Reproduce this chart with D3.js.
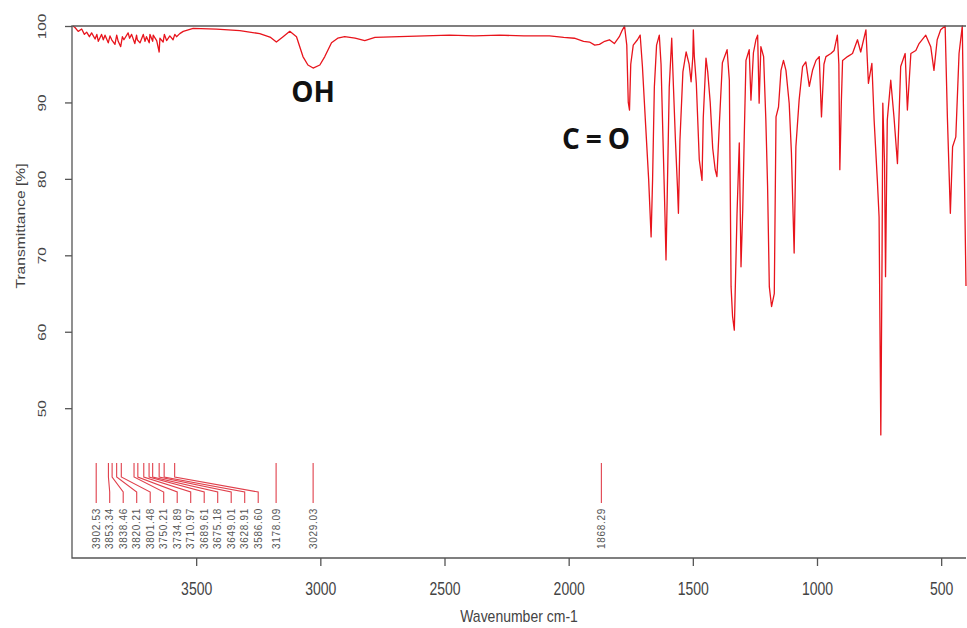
<!DOCTYPE html>
<html>
<head>
<meta charset="utf-8">
<script src="https://cdn.jsdelivr.net/npm/d3@7"></script>
<style>
  body { margin: 0; background: #fff; }
  svg { display: block; font-family: "Liberation Sans", Arial, sans-serif; }
</style>
</head>
<body>
<script>
//spectrum: wavenumber (cm-1) and transmittance (%)
var wavenumbers = [
  3996, 3988, 3975, 3961, 3950, 3941, 3930, 3921, 3907, 3900, 3894, 3881, 3874, 3867, 3854, 3847,
  3840, 3827, 3820, 3814, 3804, 3797, 3791, 3774, 3768, 3760, 3747, 3740, 3737, 3726, 3713, 3706,
  3700, 3689, 3686, 3675, 3673, 3659, 3649, 3646, 3633, 3628, 3619, 3606, 3593, 3586, 3579, 3566,
  3552, 3512, 3418, 3324, 3244, 3200, 3177, 3150, 3123, 3096, 3070, 3050, 3029, 3002, 2982, 2955,
  2930, 2902, 2860, 2821, 2780, 2681, 2580, 2480, 2380, 2278, 2180, 2077, 2020, 1977, 1940, 1916,
  1895, 1876, 1855, 1836, 1816, 1796, 1785, 1775, 1766, 1760, 1755, 1750, 1740, 1723, 1712, 1703,
  1690, 1678, 1668, 1662, 1655, 1646, 1635, 1628, 1620, 1612, 1608, 1603, 1595, 1585, 1578, 1570,
  1562, 1558, 1552, 1540, 1527, 1515, 1507, 1500, 1498, 1494, 1486, 1474, 1463, 1458, 1447, 1440,
  1430, 1420, 1410, 1403, 1393, 1381, 1362, 1353, 1346, 1340, 1333, 1322, 1313, 1306, 1299, 1293,
  1286, 1273, 1266, 1256, 1246, 1239, 1233, 1226, 1215, 1206, 1199, 1192, 1183, 1172, 1165, 1155,
  1145, 1135, 1125, 1112, 1103, 1092, 1085, 1072, 1058, 1045, 1031, 1018, 1004, 991, 982, 972,
  964, 944, 931, 918, 912, 908, 902, 897, 877, 857, 837, 824, 803, 793, 779, 770,
  757, 750, 743, 738, 735, 728, 724, 717, 703, 690, 676, 663, 645, 636, 622, 602,
  589, 562, 542, 529, 516, 502, 484, 475, 463, 454, 441, 428, 415, 400
];
var transmittance = [
  100, 99.8, 99.3, 99.6, 98.9, 99.2, 98.6, 99.1, 98.3, 98.9, 98.0, 98.9, 98.2, 98.8, 97.8, 98.7,
  98.2, 97.6, 98.8, 98.0, 97.3, 98.6, 98.2, 99.1, 98.4, 98.9, 97.7, 98.8, 98.2, 97.8, 98.9, 98.0,
  98.6, 97.8, 98.9, 98.0, 98.8, 98.1, 96.6, 98.4, 97.9, 98.9, 98.1, 98.7, 98.2, 98.9, 98.6, 99.0,
  99.3, 99.7, 99.6, 99.4, 99.0, 98.5, 97.9, 98.6, 99.3, 98.6, 96.0, 94.9, 94.5, 94.9, 96.0, 97.8,
  98.4, 98.6, 98.4, 98.1, 98.5, 98.6, 98.7, 98.8, 98.7, 98.8, 98.7, 98.7, 98.5, 98.4, 98.0, 97.9,
  97.5, 97.6, 98.0, 98.2, 97.7, 98.6, 99.4, 100, 97.5, 90, 89, 95, 97.5, 98.2, 98.8, 94.7,
  87, 80, 72.4, 80, 92, 97.5, 98.8, 95, 85, 75, 69.4, 78, 92, 98.4, 92, 85,
  79, 75.5, 85, 94, 96.6, 95, 92.7, 96, 99.5, 96, 92.5, 82.5, 79.8, 88, 95.8, 94,
  90, 84, 81.2, 80.3, 87.3, 95.2, 96.9, 92.9, 65.9, 62, 60.2, 75.5, 84.7, 68.5, 76, 85.5,
  95.5, 96.9, 90.3, 96.5, 98.2, 98.8, 89.9, 97.3, 96.0, 87.7, 79.0, 65.9, 63.3, 65.0, 88.1, 89.4,
  94.2, 95.5, 94.2, 89.9, 83.4, 70.3, 84.2, 90.3, 94.7, 95.3, 92.1, 94.2, 95.5, 96.0, 88.1, 95,
  96, 96.4, 96.8, 98.8, 95, 81.2, 90, 95.5, 96, 96.4, 98.2, 96.6, 99.5, 92.5, 95.1, 87.7,
  79.8, 75, 46.5, 70, 89.9, 82, 67.2, 87.7, 92.9, 88.1, 82.0, 94.7, 96.4, 89.0, 96.4, 96.8,
  97.7, 98.8, 97.3, 94.2, 98.2, 99.5, 100, 88.1, 75.5, 84.2, 85.5, 96.4, 100, 66
];

//picked peaks and their labels
var peakPositions = [3902.53, 3853.34, 3838.46, 3820.21, 3801.48, 3750.21, 3734.89, 3710.97,
  3689.61, 3675.18, 3649.01, 3628.91, 3586.60, 3178.09, 3029.03, 1868.29];
var peakLabels = ["3902.53", "3853.34", "3838.46", "3820.21", "3801.48", "3750.21", "3734.89", "3710.97",
  "3689.61", "3675.18", "3649.01", "3628.91", "3586.60", "3178.09", "3029.03", "1868.29"];

var xTicks = [3500, 3000, 2500, 2000, 1500, 1000, 500];
var yTicks = [50, 60, 70, 80, 90, 100];

var bandNames = ["OH", "C=O"];
var bandWavenumbers = [3029, 1878];
var bandLevels = [90.1, 83.9];

(function draw(){
  var width = 967, height = 628;
  var left = 72, right = 966, top = 26, bottom = 558;

  var svg = d3.select("body").append("svg")
    .attr("width", width)
    .attr("height", height);

  var x = d3.scaleLinear().domain([4000, 400]).range([left, right]);
  var y = d3.scaleLinear().domain([30.4, 100]).range([bottom, top]);

  //spectrum
  var pts = wavenumbers.map(function(w, i){ return [w, transmittance[i]]; });
  var line = d3.line()
    .x(function(d){ return x(d[0]); })
    .y(function(d){ return y(d[1]); });
  svg.append("path")
    .datum(pts)
    .attr("d", line)
    .attr("fill", "none")
    .attr("stroke", "#e8141c")
    .attr("stroke-width", 1.3)
    .attr("stroke-linejoin", "round");

  //frame (right side is cut off in the original)
  svg.append("path")
    .attr("d", "M" + right + "," + top + "H" + left + "V" + bottom + "H" + right)
    .attr("fill", "none")
    .attr("stroke", "#555")
    .attr("stroke-width", 1.3);

  //x axis
  var xAxis = svg.append("g")
    .attr("transform", "translate(0," + bottom + ")")
    .call(d3.axisBottom(x).tickValues(xTicks).tickSize(8).tickSizeOuter(0).tickFormat(d3.format("d")));
  xAxis.select(".domain").remove();
  xAxis.selectAll("line").attr("stroke", "#555").attr("stroke-width", 1.3);
  xAxis.selectAll("text")
    .attr("y", 0).attr("dy", 0)
    .attr("transform", "translate(0,37) scale(1,1.25)")
    .attr("fill", "#444")
    .style("font-size", "14px");

  svg.append("text")
    .attr("x", (left + right) / 2)
    .attr("y", 0)
    .attr("transform", "translate(0,622) scale(1,1.2)")
    .attr("text-anchor", "middle")
    .attr("fill", "#444")
    .style("font-size", "14px")
    .text("Wavenumber cm-1");

  //y axis with rotated labels
  var yAxis = svg.append("g")
    .attr("transform", "translate(" + left + ",0)")
    .call(d3.axisLeft(y).tickValues(yTicks).tickSize(7).tickSizeOuter(0));
  yAxis.select(".domain").remove();
  yAxis.selectAll("line").attr("stroke", "#555").attr("stroke-width", 1.3);
  yAxis.selectAll("text")
    .attr("x", 0).attr("dy", 0)
    .attr("text-anchor", "middle")
    .attr("transform", "translate(-26,0) scale(1,1.4) rotate(-90)")
    .attr("fill", "#444")
    .style("font-size", "11px");

  svg.append("text")
    .attr("transform", "translate(25,226) scale(1,1.3) rotate(-90)")
    .attr("text-anchor", "middle")
    .attr("fill", "#444")
    .style("font-size", "12px")
    .text("Transmittance [%]");

  //peak labels: push labels apart so they don't overlap
  var labelX = [];
  peakPositions.forEach(function(p, i){
    var px = x(p);
    if (i > 0) px = Math.max(px, labelX[i - 1] + 13.5);
    labelX.push(px);
  });
  var leader = d3.line();
  var peaks = svg.append("g").attr("class", "peaks");
  peakPositions.forEach(function(p, i){
    var px = x(p), lx = labelX[i];
    peaks.append("path")
      .attr("d", leader([[px, 463], [px, 477], [lx, 492], [lx, 503]]))
      .attr("fill", "none")
      .attr("stroke", "#e0404c")
      .attr("stroke-width", 1.1);
    peaks.append("text")
      .attr("transform", "translate(" + (lx + 3.5) + ",508) rotate(-90)")
      .attr("text-anchor", "end")
      .attr("fill", "#555")
      .style("font-size", "10px")
      .style("letter-spacing", "0.7px")
      .text(peakLabels[i]);
  });

  //band annotations
  svg.selectAll(".band")
    .data(bandNames)
    .enter()
    .append("text")
    .attr("class", "band")
    .attr("x", function(d, i){ return x(bandWavenumbers[i]); })
    .attr("y", function(d, i){ return y(bandLevels[i]); })
    .attr("text-anchor", "middle")
    .attr("font-family", "'Open Sans', sans-serif")
    .attr("font-weight", "bold")
    .style("font-size", "28px")
    .style("letter-spacing", function(d){ return d === "C=O" ? "6px" : "0px"; })
    .attr("fill", "#111")
    .text(function(d){ return d; });
})();
</script>
</body>
</html>
